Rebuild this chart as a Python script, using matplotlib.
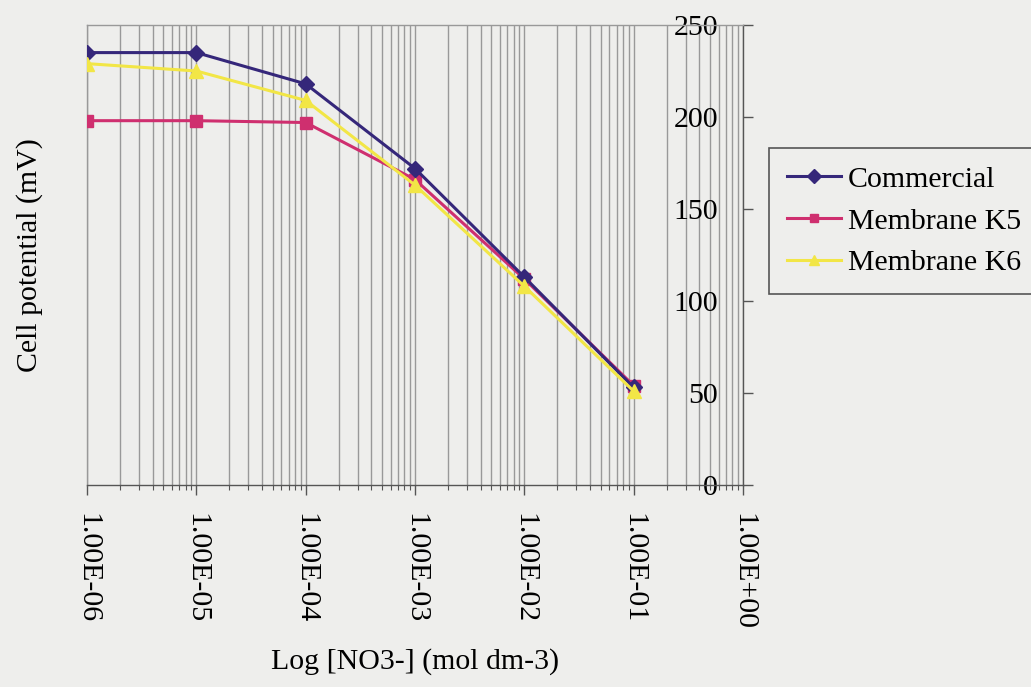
import matplotlib
matplotlib.use("Agg")
import matplotlib.pyplot as plt
from matplotlib.ticker import LogLocator, FixedLocator, NullFormatter

# Nitrate concentration (mol dm-3) and measured cell potentials (mV)
concentration = [1e-6, 1e-5, 1e-4, 1e-3, 1e-2, 1e-1]
commercial = [235, 235, 218, 172, 113, 53]
membrane_k5 = [198, 198, 197, 166, 112, 54]
membrane_k6 = [229, 225, 209, 163, 108, 51]

x_ticks = [1e-6, 1e-5, 1e-4, 1e-3, 1e-2, 1e-1, 1e0]
x_tick_labels = ["1.00E-06", "1.00E-05", "1.00E-04", "1.00E-03",
                 "1.00E-02", "1.00E-01", "1.00E+00"]
y_ticks = [0, 50, 100, 150, 200, 250]
y_tick_labels = ["0", "50", "100", "150", "200", "250"]

plt.rcParams['font.family'] = ['Liberation Serif', 'DejaVu Serif']
FS = 21.5
BG = "#eeeeec"
AXIS_C = "#555555"
GRID_C = "#999999"

W, H = 1031, 687
fig = plt.figure(figsize=(W / 100, H / 100), dpi=100, facecolor=BG)
left, right, top, bottom = 87, 743, 25, 485
ax = fig.add_axes([left / W, 1 - bottom / H, (right - left) / W, (bottom - top) / H])
ax.set_facecolor(BG)

ax.set_xscale("log")
ax.set_xlim(1e-6, 1e0)
ax.set_ylim(0, 250)

# vertical grid at every decade and every sub-decade step
ax.xaxis.set_major_locator(FixedLocator(x_ticks))
ax.xaxis.set_minor_locator(LogLocator(base=10, subs=range(2, 10), numticks=20))
ax.xaxis.set_minor_formatter(NullFormatter())
ax.set_xticks(x_ticks)
ax.set_xticklabels(x_tick_labels, rotation=270, fontsize=FS)
ax.grid(True, which="both", axis="x", color=GRID_C, linewidth=1.0)
ax.grid(False, axis="y")
ax.set_axisbelow(True)

ax.tick_params(axis="x", which="major", direction="out", length=7.2, width=1.0,
               color=AXIS_C, pad=13)
ax.tick_params(axis="x", which="minor", direction="out", length=3.6, width=0.8,
               color=AXIS_C)

# value axis sits on the right edge, labels drawn on its inner side
ax.set_yticks(y_ticks)
ax.tick_params(axis="y", left=False, labelleft=False, right=True, labelright=True,
               direction="out", length=7.2, width=1.0, color=AXIS_C, pad=-25.2)
ax.set_yticklabels(y_tick_labels, fontsize=FS, ha="right")

for side in ("left", "top"):
    ax.spines[side].set_color(GRID_C)
    ax.spines[side].set_linewidth(1.0)
for side in ("bottom", "right"):
    ax.spines[side].set_color(AXIS_C)
    ax.spines[side].set_linewidth(1.0)

ax.plot(concentration, commercial, color="#35277a", lw=2.2, marker="D",
        markersize=8.5, label="Commercial", zorder=5)
ax.plot(concentration, membrane_k5, color="#cf2f6f", lw=2.2, marker="s",
        markersize=8.0, label="Membrane K5", zorder=4)
ax.plot(concentration, membrane_k6, color="#f2e646", lw=2.2, marker="^",
        markersize=9.5, label="Membrane K6", zorder=6)

ax.set_xlabel("Log [NO3-] (mol dm-3)", fontsize=FS)
ax.xaxis.set_label_coords(0.5, (bottom - 662) / (bottom - top))
ax.xaxis.label.set_va("center")
ax.set_ylabel("Cell potential (mV)", fontsize=FS)
ax.yaxis.set_label_position("left")
ax.yaxis.set_label_coords((30 - left) / (right - left), 0.5)
ax.yaxis.label.set_va("center")

leg = ax.legend(loc="upper left", bbox_to_anchor=(769 / W, 1 - 148 / H),
                bbox_transform=fig.transFigure, borderaxespad=0, fontsize=FS,
                frameon=True, fancybox=False, facecolor=BG, edgecolor="#555555",
                labelspacing=0.5, handlelength=1.8, handletextpad=0.25,
                borderpad=0.6, framealpha=1, markerscale=0.8)
leg.get_frame().set_linewidth(1.2)

fig.savefig("out.png", dpi=100, facecolor=BG)
